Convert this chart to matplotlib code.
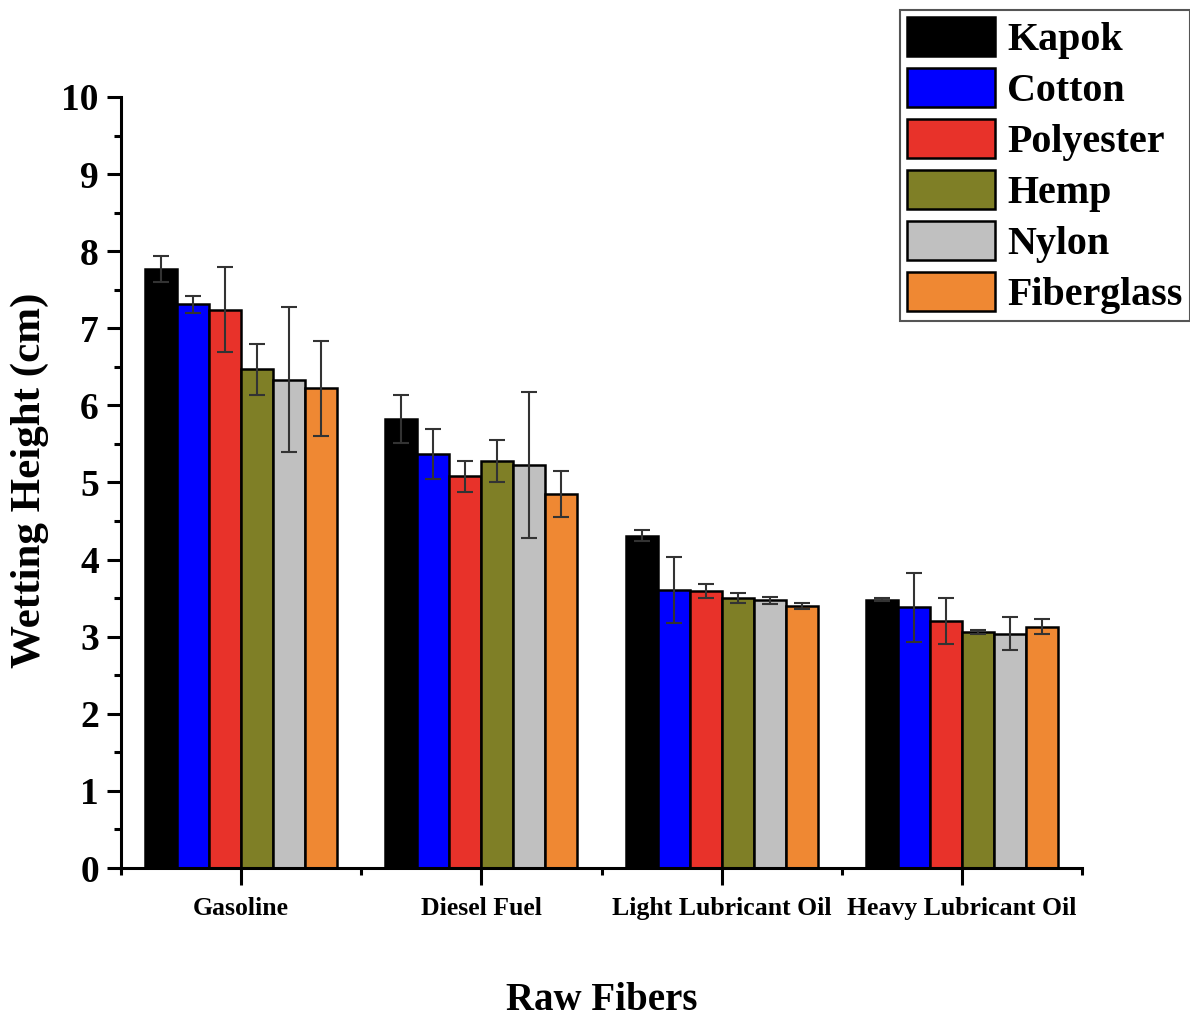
import numpy as np
import matplotlib.pyplot as plt
from matplotlib.ticker import MultipleLocator, FixedLocator

plt.rcParams['font.family'] = ['Liberation Serif', 'DejaVu Serif']
plt.rcParams['font.weight'] = 'bold'

categories = ["Gasoline", "Diesel Fuel", "Light Lubricant Oil", "Heavy Lubricant Oil"]
fibers = ["Kapok", "Cotton", "Polyester", "Hemp", "Nylon", "Fiberglass"]

kapok = [7.77, 5.82, 4.31, 3.48]
cotton = [7.31, 5.37, 3.61, 3.38]
polyester = [7.24, 5.08, 3.59, 3.20]
hemp = [6.47, 5.28, 3.50, 3.06]
nylon = [6.33, 5.23, 3.47, 3.04]
fiberglass = [6.22, 4.85, 3.40, 3.13]

kapok_err = [0.17, 0.31, 0.07, 0.02]
cotton_err = [0.11, 0.32, 0.43, 0.45]
polyester_err = [0.55, 0.20, 0.09, 0.30]
hemp_err = [0.33, 0.27, 0.065, 0.03]
nylon_err = [0.94, 0.95, 0.045, 0.21]
fiberglass_err = [0.62, 0.30, 0.04, 0.10]

values = [kapok, cotton, polyester, hemp, nylon, fiberglass]
errors = [kapok_err, cotton_err, polyester_err, hemp_err, nylon_err, fiberglass_err]
colors = ["#000000", "#0000FF", "#E8322A", "#7F7F26", "#C0C0C0", "#EF8833"]

fig = plt.figure(figsize=(11.9, 10.24), dpi=100)
ax = fig.add_axes([121 / 1190, (1024 - 868) / 1024, (1082 - 121) / 1190, (868 - 97) / 1024])

x = np.arange(1, len(categories) + 1)
width = 0.8 / len(fibers)
for i, (name, vals, errs, col) in enumerate(zip(fibers, values, errors, colors)):
    pos = x - 0.4 + width * (i + 0.5)
    ax.bar(pos, vals, width, color=col, edgecolor="black", linewidth=1.8,
           label=name, zorder=2)
    ax.errorbar(pos, vals, yerr=errs, fmt="none", ecolor="#333333",
                elinewidth=1.5, capsize=5.5, capthick=1.5, zorder=3)

ax.set_xlim(0.5, 4.5)
ax.set_ylim(0, 10)
ax.spines["top"].set_visible(False)
ax.spines["right"].set_visible(False)
for s in ("left", "bottom"):
    ax.spines[s].set_linewidth(2.2)

ax.yaxis.set_major_locator(MultipleLocator(1))
ax.yaxis.set_minor_locator(MultipleLocator(0.5))
ax.tick_params(axis="y", which="major", direction="out", length=10, width=2.2,
               labelsize=27, pad=6)
ax.tick_params(axis="y", which="minor", direction="out", length=5, width=2.2)
for lbl in ax.get_yticklabels():
    lbl.set_fontweight("bold")

ax.set_xticks(x)
ax.set_xticklabels(categories, fontsize=18.5, fontweight="bold")
ax.xaxis.set_minor_locator(FixedLocator(np.arange(0.5, 4.6, 1.0)))
ax.tick_params(axis="x", which="major", direction="out", length=12, width=2.2, pad=9)
ax.tick_params(axis="x", which="minor", direction="out", length=5, width=2.2)

ax.set_ylabel("Wetting Height (cm)", fontsize=31, fontweight="bold", va="center")
ax.yaxis.set_label_coords(-(121 - 30) / 961, 0.5 - (480 - 482.5) / 771)
ax.set_xlabel("Raw Fibers", fontsize=28, fontweight="bold", va="center")
ax.xaxis.set_label_coords(0.5, -(1000 - 868) / 771)

leg = fig.legend(loc="upper right", bbox_to_anchor=(1.0, 1 - 10 / 1024),
                 prop={"family": "Liberation Serif", "weight": "bold", "size": 28.8},
                 handlelength=2.2, handleheight=1.1, handletextpad=0.3,
                 labelspacing=0.23, borderpad=0.18, borderaxespad=0.0,
                 fancybox=False, framealpha=1)
leg.get_frame().set_edgecolor("#555555")
leg.get_frame().set_linewidth(1.5)

fig.savefig("out.png", dpi=100)
